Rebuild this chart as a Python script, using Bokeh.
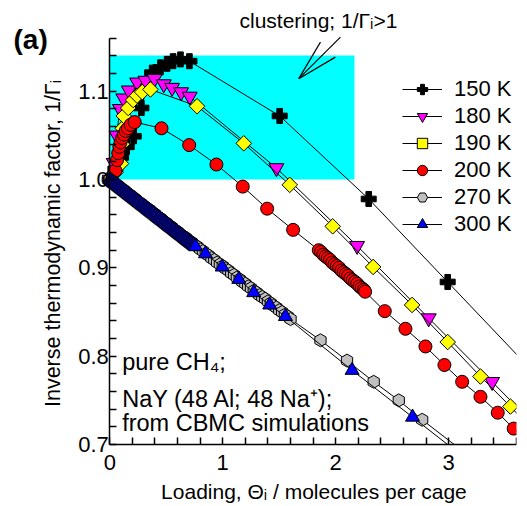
import math
from bokeh.plotting import figure
from bokeh.models import (Legend, LegendItem, Label, BoxAnnotation, FixedTicker,
                          PrintfTickFormatter, Range1d)
from bokeh.embed import file_html
from bokeh.resources import INLINE

# ---------------- data ----------------
x150 = [0.0, 0.05, 0.10, 0.15, 0.212, 0.28, 0.33, 0.375, 0.449, 0.508, 0.561, 0.626, 0.705,
        1.504, 2.292, 2.991, 3.69]
y150 = [1.0, 1.012, 1.025, 1.037, 1.049, 1.081, 1.105, 1.121, 1.127, 1.131, 1.134, 1.136, 1.134,
        1.072, 0.978, 0.884, 0.790]

x180 = [0.0, 0.035, 0.06, 0.09, 0.12, 0.168, 0.242, 0.316, 0.396, 0.478, 0.552, 0.632, 0.708,
        1.475, 2.189, 2.823, 3.384, 3.93]
y180 = [1.0, 1.019, 1.05, 1.080, 1.092, 1.101, 1.110, 1.112, 1.114, 1.108, 1.104, 1.099, 1.094,
        1.013, 0.925, 0.843, 0.771, 0.700]

x190 = [0.0, 0.05, 0.10, 0.11, 0.115, 0.124, 0.163, 0.207, 0.242, 0.287, 0.36, 0.773, 1.186,
        1.593, 1.973, 2.331, 2.676, 2.991, 3.281, 3.546, 3.79]
y190 = [1.0, 1.008, 1.018, 1.040, 1.058, 1.072, 1.081, 1.090, 1.095, 1.099, 1.102, 1.083, 1.041,
        0.994, 0.947, 0.901, 0.858, 0.816, 0.777, 0.743, 0.710]

x200 = [0.0, 0.05, 0.065, 0.075, 0.085, 0.095, 0.11, 0.125, 0.14, 0.16, 0.185, 0.221, 0.458,
        0.703, 0.944, 1.177, 1.393, 1.623,
        1.85, 1.87, 1.89, 1.91, 1.93, 1.95, 1.97, 1.99, 2.01, 2.03, 2.05, 2.07, 2.09, 2.11,
        2.13, 2.15, 2.17, 2.19, 2.21, 2.23, 2.25, 2.26,
        2.434, 2.617, 2.794, 2.962, 3.119, 3.281, 3.434, 3.575, 3.72]
y200 = [1.0, 1.010, 1.022, 1.030, 1.037, 1.042, 1.047, 1.051, 1.055, 1.058, 1.062, 1.065, 1.058,
        1.039, 1.017, 0.992, 0.967, 0.943,
        0.920, 0.918, 0.915, 0.913, 0.911, 0.909, 0.906, 0.904, 0.902, 0.900, 0.897, 0.895,
        0.893, 0.891, 0.888, 0.886, 0.884, 0.882, 0.879, 0.877, 0.875, 0.873,
        0.851, 0.831, 0.811, 0.790, 0.771, 0.754, 0.736, 0.718, 0.703]

x270 = [0.0, 0.025, 0.05, 0.075, 0.1, 0.125, 0.15, 0.175, 0.2, 0.225, 0.25, 0.275, 0.3,
        0.325, 0.35, 0.375, 0.4, 0.425, 0.45, 0.475, 0.5, 0.525, 0.55, 0.575, 0.6, 0.625,
        0.65, 0.675, 0.7, 0.725, 0.75, 0.775, 0.8, 0.825, 0.85, 0.875, 0.9, 0.925, 0.95,
        0.975, 1.0, 1.025, 1.05, 1.075, 1.1, 1.125, 1.15, 1.175, 1.2, 1.225, 1.25, 1.275,
        1.3, 1.325, 1.35, 1.375, 1.4, 1.425, 1.45, 1.475, 1.5, 1.525, 1.55, 1.575, 1.6,
        1.865, 2.10, 2.336, 2.558, 2.765, 3.19]
y270 = [1.000, 0.998, 0.995, 0.993, 0.990, 0.988, 0.985, 0.983, 0.980, 0.978, 0.975, 0.973,
        0.970, 0.968, 0.966, 0.963, 0.961, 0.958, 0.956, 0.953, 0.951, 0.948, 0.946, 0.943,
        0.941, 0.938, 0.936, 0.934, 0.931, 0.929, 0.926, 0.924, 0.921, 0.919, 0.916, 0.914,
        0.911, 0.909, 0.906, 0.904, 0.902, 0.899, 0.897, 0.894, 0.892, 0.889, 0.887, 0.884,
        0.882, 0.879, 0.877, 0.874, 0.872, 0.869, 0.867, 0.865, 0.862, 0.860, 0.857, 0.855,
        0.852, 0.850, 0.847, 0.845, 0.842,
        0.818, 0.795, 0.771, 0.750, 0.728, 0.686]

x300 = [0.00, 0.01, 0.02, 0.03, 0.04, 0.05, 0.06, 0.07, 0.08, 0.09,
        0.10, 0.11, 0.12, 0.13, 0.14, 0.15, 0.16, 0.17, 0.18, 0.19,
        0.20, 0.21, 0.22, 0.23, 0.24, 0.25, 0.26, 0.27, 0.28, 0.29,
        0.30, 0.31, 0.32, 0.33, 0.34, 0.35, 0.36, 0.37, 0.38, 0.39,
        0.40, 0.41, 0.42, 0.43, 0.44, 0.45, 0.46, 0.47, 0.48, 0.49,
        0.50, 0.51, 0.52, 0.53, 0.54, 0.55, 0.56, 0.57, 0.58, 0.59,
        0.60, 0.61, 0.62, 0.63, 0.64, 0.65, 0.66, 0.67, 0.68, 0.69,
        0.70, 0.71, 0.72, 0.73, 0.74, 0.75, 0.76,
        0.847, 0.995, 1.142, 1.274, 1.416, 1.555, 2.145, 2.68, 3.2]
y300 = [1.000, 0.999, 0.998, 0.997, 0.996, 0.995, 0.994, 0.993, 0.992, 0.991,
        0.990, 0.989, 0.988, 0.987, 0.986, 0.985, 0.984, 0.983, 0.982, 0.981,
        0.980, 0.979, 0.978, 0.977, 0.976, 0.975, 0.974, 0.973, 0.972, 0.971,
        0.970, 0.969, 0.968, 0.967, 0.966, 0.965, 0.964, 0.963, 0.962, 0.961,
        0.960, 0.959, 0.958, 0.957, 0.956, 0.955, 0.954, 0.953, 0.952, 0.951,
        0.950, 0.949, 0.948, 0.947, 0.946, 0.945, 0.944, 0.943, 0.942, 0.941,
        0.940, 0.939, 0.938, 0.937, 0.936, 0.935, 0.934, 0.933, 0.932, 0.931,
        0.930, 0.929, 0.928, 0.927, 0.926, 0.925, 0.924,
        0.916, 0.901, 0.887, 0.872, 0.858, 0.845, 0.784, 0.731, 0.679]

labels = ["150 K", "180 K", "190 K", "200 K", "270 K", "300 K"]

x_ticks = [0, 1, 2, 3]
x_minor = [0.2, 0.4, 0.6, 0.8, 1.2, 1.4, 1.6, 1.8, 2.2, 2.4, 2.6, 2.8, 3.2, 3.4, 3.6]
y_ticks = [0.7, 0.8, 0.9, 1.0, 1.1]
y_minor = [0.72, 0.74, 0.76, 0.78, 0.82, 0.84, 0.86, 0.88, 0.92, 0.94, 0.96, 0.98,
           1.02, 1.04, 1.06, 1.08, 1.12, 1.14, 1.16]

FONT = "Liberation Sans"
Y_MIN, Y_MAX = 0.7, 1.16
X_MIN, X_MAX = 0.0, 3.6

p = figure(width=527, height=506, x_range=Range1d(-0.967, X_MAX),
           y_range=Range1d(0.6298, 1.2027),
           output_backend="svg", toolbar_location=None,
           min_border_left=0, min_border_right=11, min_border_top=0, min_border_bottom=0)
p.grid.visible = False
p.outline_line_color = None
p.background_fill_color = "white"

# cyan clustering region
p.add_layout(BoxAnnotation(left=0, right=2.166, bottom=1.0, top=1.1405,
                           fill_color="#00FFFF", fill_alpha=1.0, line_color=None,
                           level="underlay"))

styles = [
    (x150, y150, "plus", "#000000", 15, 0.0),
    (x180, y180, "inverted_triangle", "#FF00FF", 15, 0.0),
    (x190, y190, "square", "#FFFF00", 11, math.pi / 4),
    (x200, y200, "circle", "#FF0000", 13, 0.0),
    (x270, y270, "hex", "#C0C0C0", 13, math.pi / 2),
    (x300, y300, "triangle", "#0000FF", 14, 0.0),
]

items = []
for lab, (xs, ys, mk, col, sz, ang) in zip(labels, styles):
    lr = p.line(xs, ys, line_color="black", line_width=1)
    sr = p.scatter(xs, ys, marker=mk, size=sz, angle=ang, fill_color=col,
                   line_color="black", line_width=1)
    items.append(LegendItem(label=lab, renderers=[lr, sr]))

# mask everything below the x axis (the plot area ends at y = 0.7)
p.quad(left=-2, right=5, bottom=0.0, top=Y_MIN, fill_color="white", line_color=None)

legend = Legend(items=items, location=(402, 269), padding=0, margin=0,
                glyph_width=40, glyph_height=26, label_height=26, spacing=1,
                label_standoff=12, border_line_color=None, background_fill_alpha=0,
                label_text_font=FONT, label_text_font_size="22px",
                label_text_color="black")
p.add_layout(legend, "center")

# axes
for ax in (p.xaxis, p.yaxis):
    ax.axis_line_width = 1.5
    ax.axis_line_color = "black"
    ax.major_tick_in = 7
    ax.major_tick_out = 0
    ax.minor_tick_in = 7
    ax.minor_tick_out = 0
    ax.major_tick_line_width = 1.5
    ax.minor_tick_line_width = 1.5
    ax.major_tick_line_color = "black"
    ax.minor_tick_line_color = "black"
    ax.major_label_text_font = FONT
    ax.major_label_text_font_size = "22px"
    ax.major_label_text_color = "black"

p.xaxis.ticker = FixedTicker(ticks=x_ticks, minor_ticks=x_minor)
p.yaxis.ticker = FixedTicker(ticks=y_ticks, minor_ticks=y_minor)
p.xaxis.formatter = PrintfTickFormatter(format="%d")
p.yaxis.formatter = PrintfTickFormatter(format="%.1f")
p.xaxis.bounds = (X_MIN, X_MAX)
p.yaxis.bounds = (Y_MIN, Y_MAX)
p.yaxis.fixed_location = X_MIN
p.xaxis.fixed_location = Y_MIN
p.xaxis.major_label_standoff = 11
p.yaxis.major_label_standoff = 1

# axis titles
p.add_layout(Label(x=1.807, y=0.6468, text="Loading, Θᵢ / molecules per cage",
                   text_font=FONT, text_font_size="21px", text_color="black",
                   text_align="center", text_baseline="alphabetic"))
p.add_layout(Label(x=-0.505, y=0.9276, text="Inverse thermodynamic factor, 1/Γᵢ",
                   angle=math.pi / 2, text_font=FONT, text_font_size="21.5px",
                   text_color="black", text_align="center", text_baseline="alphabetic"))

# arrow pointing into the clustering region
p.segment(x0=[1.673, 1.673, 1.673], y0=[1.1142, 1.1142, 1.1142],
          x1=[1.865, 2.042, 1.997], y1=[1.1556, 1.1613, 1.1386],
          line_color="black", line_width=1.2)

# texts
p.add_layout(Label(x=-0.852, y=1.1587, text="(a)", text_font=FONT, text_font_size="28px",
                   text_font_style="bold", text_color="black", text_baseline="alphabetic"))
p.add_layout(Label(x=1.148, y=1.1803, text="clustering; 1/Γᵢ>1", text_font=FONT,
                   text_font_size="21px", text_color="black", text_baseline="alphabetic"))
for txt, yy in (("pure CH₄;", 0.793), ("NaY (48 Al; 48 Na⁺);", 0.752),
                ("from CBMC simulations", 0.724)):
    p.add_layout(Label(x=0.11, y=yy, text=txt, text_font=FONT, text_font_size="23.5px",
                       text_color="black", text_baseline="alphabetic"))

open("out.html", "w").write(file_html(p, INLINE))
